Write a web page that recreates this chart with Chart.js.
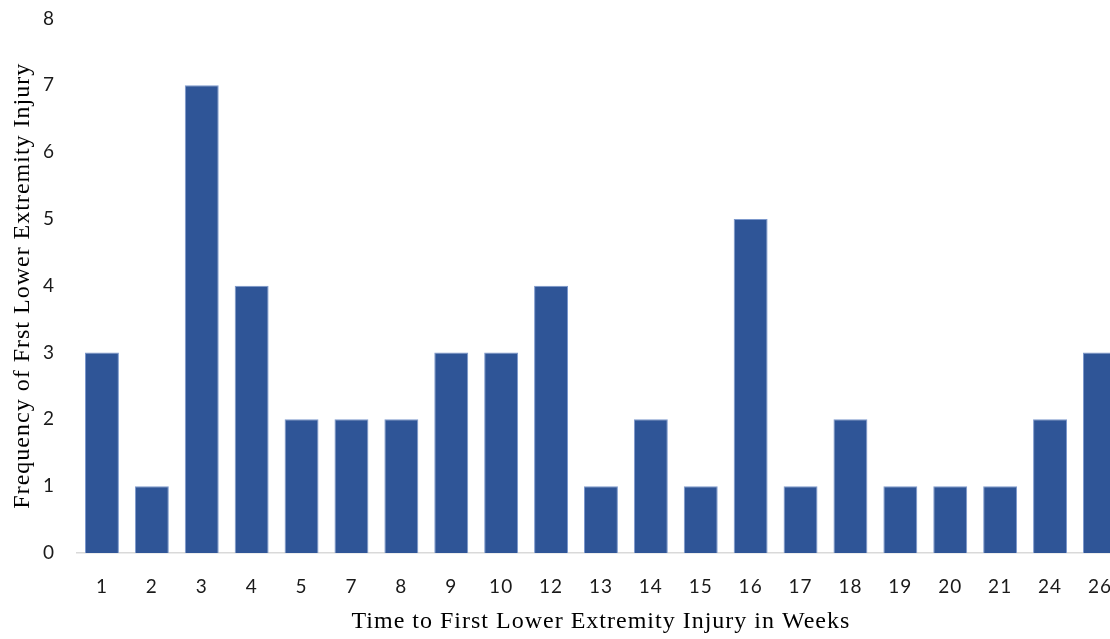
<!DOCTYPE html>
<html>
<head>
<meta charset="utf-8">
<script src="https://cdn.jsdelivr.net/npm/chart.js@4.4.0/dist/chart.umd.min.js"></script>
<style>
html,body{margin:0;padding:0;overflow:hidden;background:#fff;}
#wrap{position:absolute;left:0;top:-15px;width:1133px;height:654px;}
</style>
</head>
<body>
<div id="wrap"><canvas id="c"></canvas></div>
<script>
const weeks = ["1","2","3","4","5","7","8","9","10","12","13","14","15","16","17","18","19","20","21","24","26"];
const frequency = [3,1,7,4,2,2,2,3,3,4,1,2,1,5,1,2,1,1,1,2,3];
const yTicks = [0,1,2,3,4,5,6,7,8];
const xTitle = "Time to First Lower Extremity Injury in Weeks";
const yTitle = "Frequency of Frst Lower Extremity Injury";

const spacing = {
  id: 'spacing',
  beforeDraw(chart) { chart.ctx.letterSpacing = '1px'; }
};

new Chart(document.getElementById('c'), {
  type: 'bar',
  data: {
    labels: weeks,
    datasets: [{
      data: frequency,
      backgroundColor: '#2F5597',
      borderColor: '#7C98CC',
      borderWidth: 1,
      categoryPercentage: 0.68,
      barPercentage: 1.0
    }]
  },
  plugins: [spacing],
  options: {
    responsive: true,
    maintainAspectRatio: false,
    animation: false,
    layout: { padding: { top: 3, right: 2, left: 0, bottom: 0 } },
    plugins: { legend: { display: false }, tooltip: { enabled: false } },
    scales: {
      x: {
        grid: { display: false, drawTicks: false },
        border: { display: true, color: '#D9D9D9', width: 1.5 },
        ticks: { color: '#1a1a1a', font: { family: 'Lato', size: 19 }, padding: 22, maxRotation: 0 },
        title: { display: true, text: xTitle, color: '#000', font: { family: 'Liberation Serif', size: 24 }, padding: { top: 10, bottom: 3 } },
        afterFit: s => { s.height = 86; }
      },
      y: {
        min: 0, max: 8,
        afterBuildTicks: s => { s.ticks = yTicks.map(v => ({ value: v })); },
        grid: { display: false, drawTicks: false },
        border: { display: false },
        ticks: { color: '#1a1a1a', font: { family: 'Lato', size: 19 }, padding: 22 },
        title: { display: true, text: yTitle, color: '#000', font: { family: 'Liberation Serif', size: 24 }, padding: { top: 8, bottom: 4 } },
        afterFit: s => { s.width = 77; }
      }
    }
  }
});
</script>
</body>
</html>
